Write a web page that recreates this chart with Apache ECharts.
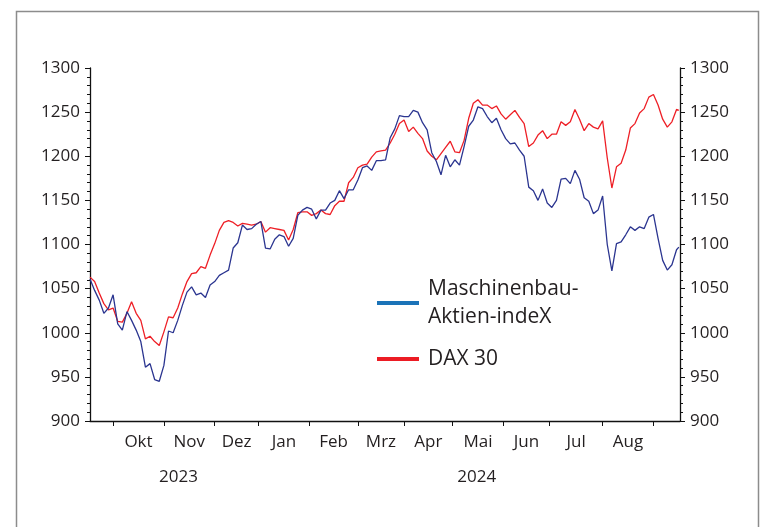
<!DOCTYPE html>
<html><head><meta charset="utf-8">
<script src="https://cdn.jsdelivr.net/npm/echarts@6/dist/echarts.min.js"></script>
<style>html,body{margin:0;padding:0;background:#fff}#c{width:760px;height:527px}</style>
</head><body><div id="c"></div>
<script>
// x position = trading day index (0 = first trading day of Oct 2023)
const days = [-10,-8,-6,-4,-2,0,2,4,6,8,10,12,14,16,18,20,22,24,26,28,30,32,34,36,38,40,42,44,46,48,50,52,54,56,58,60,62,64,66,68,70,72,74,76,78,80,82,84,86,88,90,92,94,96,98,100,102,104,106,108,110,112,114,116,118,120,122,124,126,128,130,132,134,136,138,140,142,144,146,148,150,152,154,156,158,160,162,164,166,168,170,172,174,176,178,180,182,184,186,188,190,192,194,196,198,200,202,204,206,208,210,212,214,216,218,220,222,224,226,228,230,232,234,236,238,240,242,244,245];
const daxValues = [1063,1058,1045,1033,1026,1028,1013,1012,1022,1035,1022,1014,993,996,990,985.5,1001,1018,1017,1028,1044,1058,1067,1068,1075,1073,1088,1101,1116,1125,1127,1125,1121,1124,1123,1122,1123,1126,1114,1119,1118,1117,1116,1105,1117,1136,1137,1137,1133,1135,1139,1135,1134,1144,1149,1149,1170,1176,1187,1190,1191,1199,1205,1206,1207,1215,1225,1237,1241,1228,1233,1226,1220,1206,1200,1196,1203,1210,1217,1205,1204,1218,1243,1260,1264,1258,1258,1254,1257,1248,1242,1247,1252,1244,1237,1211,1215,1224,1229,1220,1225,1225,1239,1235,1239,1253,1242,1229,1237,1233,1231,1240,1198,1164,1188,1192,1207,1232,1237,1249,1254,1267,1270,1258,1242,1233,1239,1253,1252];
const maxValues = [1061,1048,1037,1022,1028,1043,1010,1003,1024,1014,1003,990,961,965,947,945,963,1002,1000,1014,1031,1046,1052,1043,1045,1040,1054,1058,1065,1068,1071,1096,1102,1122,1117,1118,1123,1126,1096,1095,1106,1111,1109,1098,1107,1133,1139,1142,1140,1129,1139,1139,1147,1150,1161,1152,1162,1162,1173,1187,1189,1184,1195,1195,1196,1221,1231,1246,1245,1245,1252,1250,1238,1230,1204,1194,1179,1201,1188,1196,1190,1211,1234,1241,1256,1254,1245,1238,1243,1230,1220,1214,1215,1207,1200,1165,1161,1150,1163,1147,1142,1150,1174,1175,1169,1184,1174,1153,1149,1135,1139,1155,1100,1070,1101,1103,1111,1120,1116,1120,1118,1131,1134,1107,1082,1071,1077,1094,1097];
const monthNames = ['Okt','Nov','Dez','Jan','Feb','Mrz','Apr','Mai','Jun','Jul','Aug'];
const monthStarts = [0,22,44,63,85,106,126,147,169,189,212,234];
const yearNames = ['2023','2024'];
const yearCenters = [28.3,157.5];
const yTicks = [900,950,1000,1050,1100,1150,1200,1250,1300];
const seriesNames = ['Maschinenbau-\nAktien-indeX','DAX 30'];

const monthMids = monthNames.map((m,i)=>(monthStarts[i]+monthStarts[i+1])/2);
const FONT = 'Open Sans';
const TXT = '#231f20';
const chart = echarts.init(document.getElementById('c'), null, {renderer:'canvas'});
const yAxisBase = {
  type:'value', min:yTicks[0], max:yTicks[yTicks.length-1], interval:50,
  axisLine:{show:true, onZero:false, lineStyle:{color:'#111', width:1.3}},
  axisTick:{show:true, length:5, lineStyle:{color:'#111', width:1}},
  minorTick:{show:true, splitNumber:5, length:3, lineStyle:{color:'#111', width:1}},
  splitLine:{show:false},
  axisLabel:{color:TXT, fontFamily:FONT, fontSize:17, margin:10, formatter:(v)=>String(v)}
};
chart.setOption({
  animation:false,
  backgroundColor:'#fff',
  graphic:[{type:'rect', shape:{x:16.5, y:11.5, width:742, height:540}, style:{fill:'none', stroke:'#8c8c8c', lineWidth:1.5}, silent:true}],
  grid:{left:90, right:80, top:68, bottom:106},
  xAxis:[{
    type:'value', min:-10, max:245.5,
    axisLine:{show:true, onZero:false, lineStyle:{color:'#111', width:1.3}},
    axisTick:{show:true, length:5, customValues:monthStarts, lineStyle:{color:'#111', width:1}},
    splitLine:{show:false},
    axisLabel:{customValues:monthMids, margin:13, color:TXT, fontFamily:FONT, fontSize:17,
      formatter:(v)=>{const i=monthMids.findIndex(m=>Math.abs(m-v)<0.01); return i>=0?monthNames[i]:'';}}
  },{
    type:'value', min:-10, max:245.5, position:'bottom', offset:40,
    axisLine:{show:false, onZero:false}, axisTick:{show:false}, splitLine:{show:false},
    axisLabel:{customValues:yearCenters, color:TXT, fontFamily:FONT, fontSize:17,
      formatter:(v)=>{const i=yearCenters.findIndex(m=>Math.abs(m-v)<0.01); return i>=0?yearNames[i]:'';}}
  }],
  yAxis:[Object.assign({}, yAxisBase, {position:'left'}),
         Object.assign({}, yAxisBase, {position:'right'})],
  legend:{
    orient:'vertical', left:377, top:261, padding:0, itemGap:0,
    itemWidth:42, itemHeight:4, icon:'rect',
    textStyle:{color:TXT, fontFamily:FONT, fontSize:21, lineHeight:28},
    data:[
      {name:seriesNames[0], itemStyle:{color:'#1b73b8'}, textStyle:{padding:[28,0,0,4]}},
      {name:seriesNames[1], itemStyle:{color:'#ec1c24'}, textStyle:{padding:[0,0,0,4]}}
    ]
  },
  series:[
    {name:seriesNames[0], type:'line', xAxisIndex:0, yAxisIndex:0, showSymbol:false, symbol:'none',
     data:days.map((d,i)=>[d,maxValues[i]]), lineStyle:{color:'#2b3590', width:1.3}, itemStyle:{color:'#1b73b8'}, z:3},
    {name:seriesNames[1], type:'line', xAxisIndex:0, yAxisIndex:0, showSymbol:false, symbol:'none',
     data:days.map((d,i)=>[d,daxValues[i]]), lineStyle:{color:'#ee1f26', width:1.3}, itemStyle:{color:'#ec1c24'}, z:2}
  ]
});
</script></body></html>
